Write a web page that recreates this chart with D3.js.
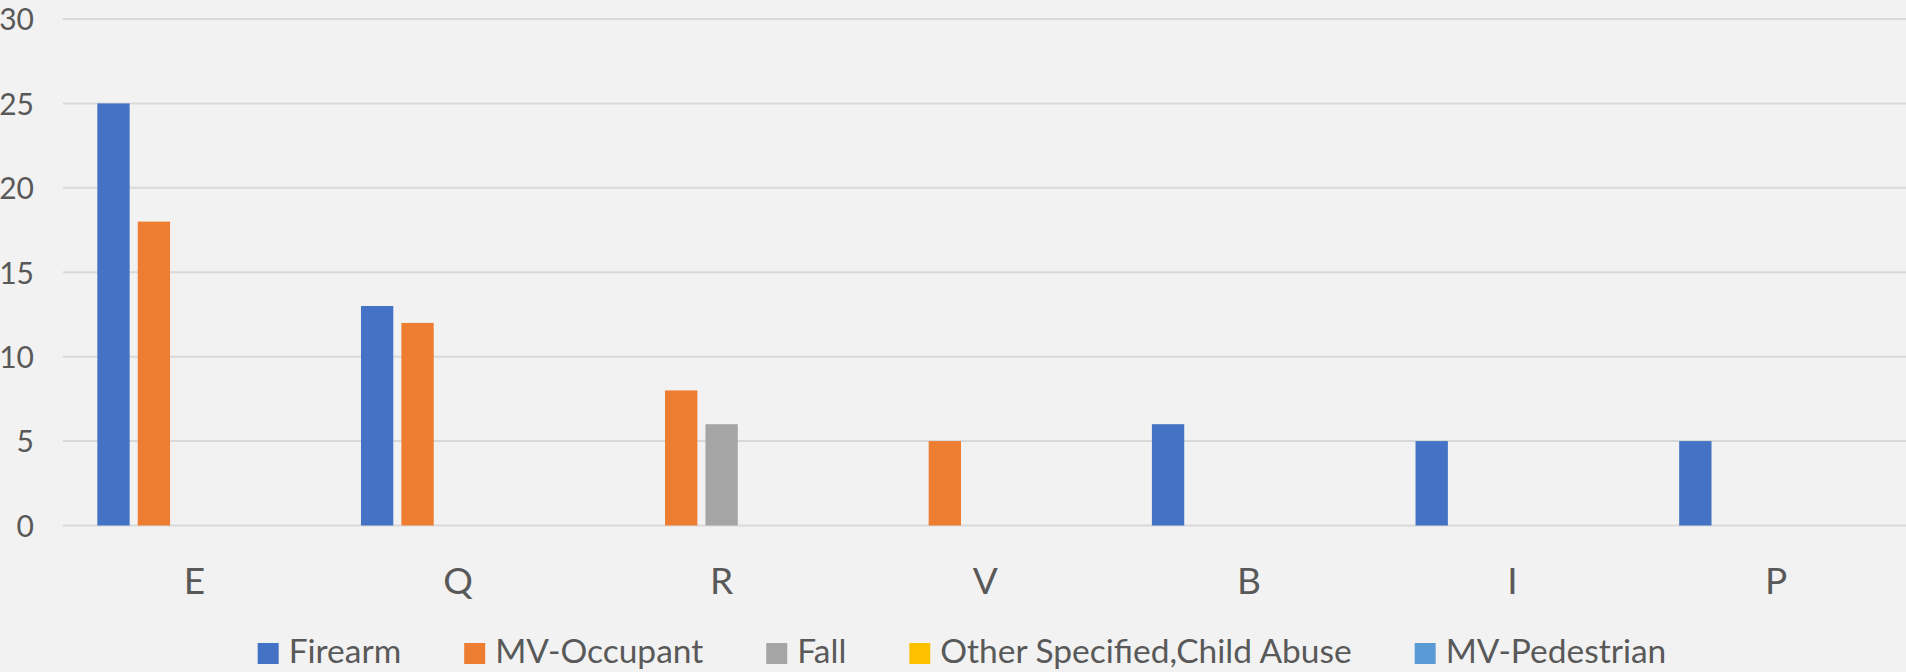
<html><head>
<script src="https://cdnjs.cloudflare.com/ajax/libs/d3/7.8.5/d3.min.js"></script>
<style>
  body { margin: 0; background: #f2f2f2; }
  svg { display: block; }
  text { font-family: Lato, "Open Sans", sans-serif; fill: #595959; }
</style>
</head>
<body>
<svg id="chart" width="1906" height="672"></svg>
<script>
// data
const categories = ["E", "Q", "R", "V", "B", "I", "P"];
const seriesNames = ["Firearm", "MV-Occupant", "Fall", "Other Specified,Child Abuse", "MV-Pedestrian"];
const firearm     = [25, 13, 0, 0, 6, 5, 5];
const mvOccupant  = [18, 12, 8, 5, 0, 0, 0];
const fall        = [0, 0, 6, 0, 0, 0, 0];
const otherChild  = [0, 0, 0, 0, 0, 0, 0];
const mvPedestrian= [0, 0, 0, 0, 0, 0, 0];
const yTicks = [0, 5, 10, 15, 20, 25, 30];
const colors = ["#4472c4", "#ed7d31", "#a5a5a5", "#ffc000", "#5b9bd5"];

const seriesValues = [firearm, mvOccupant, fall, otherChild, mvPedestrian];

const W = 1906, H = 672;
const svg = d3.select("#chart");

const x0 = d3.scaleBand().domain(categories).range([62.5, 1908]);
const x1 = d3.scaleBand().domain(seriesNames).range([-97, 97]).paddingInner(0.2);
const y = d3.scaleLinear().domain([0, 30]).range([525.5, 19]);

// gridlines
svg.append("g").selectAll("line").data(yTicks).join("line")
  .attr("x1", 63).attr("x2", W)
  .attr("y1", d => y(d)).attr("y2", d => y(d))
  .attr("stroke", "#d9d9d9").attr("stroke-width", 2);

// y axis labels
const yAxis = d3.axisLeft(y).tickValues(yTicks).tickSize(0).tickPadding(0);
svg.append("g").attr("transform", "translate(34,0)").call(yAxis)
  .call(g => g.select(".domain").remove())
  .selectAll("text")
  .style("font-size", "30px").attr("fill", "#595959").attr("dy", "0.36em");

// bars
const rows = [];
categories.forEach((c, i) => {
  seriesNames.forEach((s, j) => {
    rows.push({ cat: c, series: s, value: seriesValues[j][i], color: colors[j] });
  });
});
svg.append("g").selectAll("rect").data(rows.filter(d => d.value > 0)).join("rect")
  .attr("x", d => x0(d.cat) + x0.bandwidth() / 2 + x1(d.series))
  .attr("width", x1.bandwidth())
  .attr("y", d => y(d.value))
  .attr("height", d => y(0) - y(d.value))
  .attr("fill", d => d.color);

// x axis labels
const xAxis = d3.axisBottom(x0).tickSize(0).tickPadding(0);
svg.append("g").attr("transform", "translate(0,594)").call(xAxis)
  .call(g => g.select(".domain").remove())
  .selectAll("text")
  .style("font-size", "37px").attr("fill", "#595959").attr("dy", 0);

// legend
const legend = svg.append("g");
const items = legend.selectAll("g").data(seriesNames).join("g");
items.append("rect").attr("width", 21).attr("height", 21).attr("y", -20)
  .attr("fill", (d, i) => colors[i]);
items.append("text").attr("x", 31).attr("y", 0)
  .style("font-size", "33.5px").text(d => d);
let pos = 0;
items.each(function() {
  const w = this.querySelector("text").getComputedTextLength();
  d3.select(this).attr("data-x", pos);
  pos += 31 + w + 63;
});
const total = pos - 63;
const start = 962 - total / 2;
items.attr("transform", function() {
  return `translate(${start + +this.getAttribute("data-x")},663)`;
});
</script>
</body></html>
